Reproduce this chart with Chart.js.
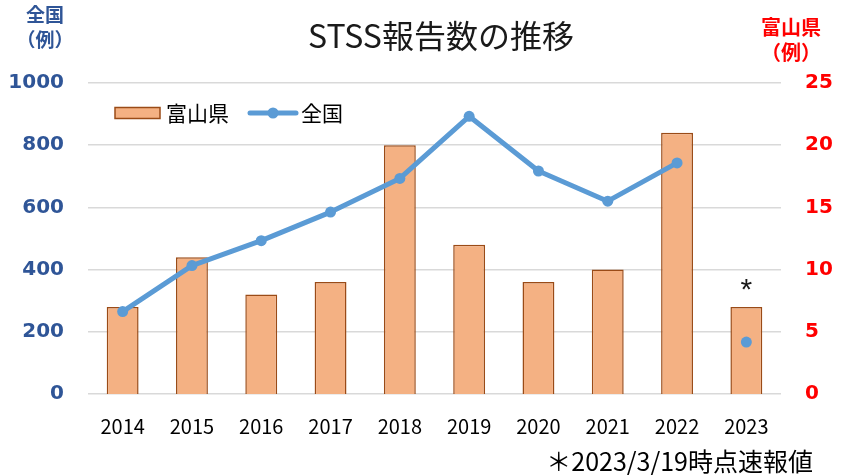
<!DOCTYPE html>
<html><head><meta charset="utf-8">
<script src="https://cdn.jsdelivr.net/npm/chart.js@4.4.1/dist/chart.umd.min.js"></script>
<style>html,body{margin:0;padding:0;background:#fff;}#wrap{width:844px;height:475px;position:relative;}</style>
</head><body><div id="wrap"><canvas id="c" width="844" height="475"></canvas></div>
<script>
const years = ['2014','2015','2016','2017','2018','2019','2020','2021','2022','2023'];
const toyama = [7, 11, 8, 9, 20, 12, 9, 10, 21, 7];
const national = [265, 413, 493, 585, 693, 893, 717, 620, 743, 167];
const leftTicks = [0, 200, 400, 600, 800, 1000];
const rightTicks = [0, 5, 10, 15, 20, 25];
const seriesNames = ['富山県', '全国'];
const chartTitle = 'STSS報告数の推移';
const leftUnit = ['全国', '（例）'];
const rightUnit = ['富山県', '（例）'];
const footnote = '＊2023/3/19時点速報値';
const markLabel = '*';

const BAR_FILL = '#F4B183', BAR_EDGE = '#9A4B17', LINE = '#5B9BD5';
const JP = '"Noto Sans CJK JP", "Noto Sans", sans-serif';
const NUM = '"DejaVu Sans", Verdana, sans-serif';

const textPlugin = {
  id: 'texts',
  afterDraw(chart) {
    const ctx = chart.ctx;
    ctx.save();
    // title
    ctx.fillStyle = '#1a1a1a';
    ctx.font = '32px ' + JP;
    ctx.textAlign = 'center';
    ctx.textBaseline = 'middle';
    ctx.fillText(chartTitle, 441, 36);
    // axis units
    ctx.font = 'bold 19px ' + JP;
    ctx.fillStyle = '#2F5597';
    ctx.fillText(leftUnit[0], 45, 15);
    ctx.fillText(leftUnit[1], 45, 40);
    ctx.font = 'bold 20px ' + JP;
    ctx.fillStyle = '#FF0000';
    ctx.fillText(rightUnit[0], 791, 27);
    ctx.fillText(rightUnit[1], 791, 52);
    // footnote
    ctx.font = '25px ' + JP;
    ctx.fillStyle = '#000';
    ctx.textAlign = 'right';
    ctx.fillText(footnote, 813, 461);
    // asterisk over last bar
    const bar = chart.getDatasetMeta(0).data[years.length - 1];
    ctx.textAlign = 'center';
    ctx.textBaseline = 'alphabetic';
    ctx.font = '30px "Liberation Sans", sans-serif';
    ctx.fillStyle = '#1a1a1a';
    ctx.fillText(markLabel, bar.x, bar.y - 8);
    // legend
    ctx.textBaseline = 'middle';
    const ly = 113;
    const lx = 115;
    ctx.fillStyle = BAR_FILL;
    ctx.strokeStyle = BAR_EDGE;
    ctx.lineWidth = 1.5;
    ctx.fillRect(lx, ly - 5.5, 45, 11);
    ctx.strokeRect(lx, ly - 5.5, 45, 11);
    ctx.font = '21px ' + JP;
    ctx.fillStyle = '#000';
    ctx.textAlign = 'left';
    ctx.fillText(seriesNames[0], 166, ly);
    ctx.strokeStyle = LINE;
    ctx.lineWidth = 5;
    ctx.lineCap = 'round';
    ctx.beginPath(); ctx.moveTo(250, ly); ctx.lineTo(296, ly); ctx.stroke();
    ctx.fillStyle = LINE;
    ctx.beginPath(); ctx.arc(273, ly, 5.5, 0, Math.PI * 2); ctx.fill();
    ctx.fillStyle = '#000';
    ctx.fillText(seriesNames[1], 301, ly);
    ctx.restore();
  }
};

new Chart(document.getElementById('c'), {
  data: {
    labels: years,
    datasets: [
      {
        type: 'bar', label: seriesNames[0], data: toyama, yAxisID: 'y1', order: 2,
        backgroundColor: BAR_FILL, borderColor: BAR_EDGE, borderWidth: 1.5,
        barPercentage: 0.46, categoryPercentage: 1
      },
      {
        type: 'line', label: seriesNames[1], data: national, yAxisID: 'y', order: 1,
        borderColor: LINE, backgroundColor: LINE, borderWidth: 5, borderJoinStyle: 'round',
        pointRadius: 5.5, pointBackgroundColor: LINE, pointBorderWidth: 0, pointHoverRadius: 5.5,
        segment: { borderColor: c => c.p1DataIndex === years.length - 1 ? 'rgba(0,0,0,0)' : LINE },
        tension: 0
      }
    ]
  },
  options: {
    responsive: false, animation: false, devicePixelRatio: 1,
    layout: { padding: { top: 83, bottom: 37, left: 0, right: 0 } },
    plugins: { legend: { display: false }, tooltip: { enabled: false }, title: { display: false } },
    scales: {
      x: {
        grid: { display: false, drawTicks: false }, border: { display: false },
        ticks: { color: '#000', font: { family: JP, size: 20 }, padding: 20 },
        afterFit: s => { s.height = 44; }
      },
      y: {
        position: 'left', min: 0, max: 1000,
        afterBuildTicks: s => { s.ticks = leftTicks.map(v => ({ value: v })); },
        ticks: { color: '#2F5597', font: { family: NUM, size: 20, weight: 'bold' }, padding: 24,
                 callback: v => String(v) },
        grid: { color: '#D9D9D9', lineWidth: 1.5, drawTicks: false }, border: { display: false },
        afterFit: s => { s.width = 88; }
      },
      y1: {
        position: 'right', min: 0, max: 25,
        afterBuildTicks: s => { s.ticks = rightTicks.map(v => ({ value: v })); },
        ticks: { color: '#FF0000', font: { family: NUM, size: 20, weight: 'bold' }, padding: 24,
                 callback: v => String(v) },
        grid: { display: false, drawTicks: false }, border: { display: false },
        afterFit: s => { s.width = 63; }
      }
    }
  },
  plugins: [textPlugin]
});
</script></body></html>
